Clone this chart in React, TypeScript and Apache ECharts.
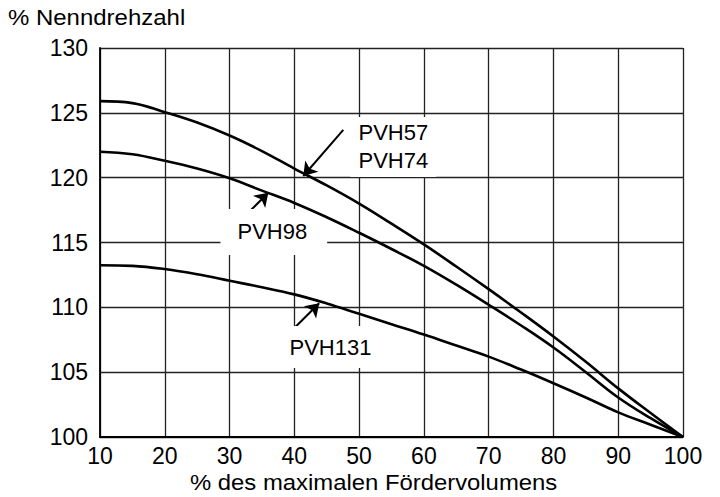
import React, { useEffect, useRef } from "react";
import * as echarts from "echarts";

const xValues = [10, 15, 20, 25, 30, 35, 40, 45, 50, 55, 60, 65, 70, 75, 80, 85, 90, 95, 100];
const pvh57_74 = [125.9, 125.75, 125.05, 124.25, 123.25, 122.05, 120.7, 119.4, 118.0, 116.45, 114.85, 113.15, 111.4, 109.6, 107.75, 105.8, 103.75, 101.85, 100];
const pvh98 = [122.0, 121.8, 121.3, 120.7, 119.95, 119.0, 118.05, 116.95, 115.75, 114.5, 113.2, 111.75, 110.2, 108.6, 106.9, 105.0, 103.05, 101.45, 100];
const pvh131 = [113.25, 113.2, 112.95, 112.55, 112.05, 111.55, 111.0, 110.3, 109.5, 108.7, 107.9, 107.05, 106.2, 105.2, 104.15, 103.05, 101.9, 100.95, 100];

const xTitle = "% des maximalen Fördervolumens";
const yTitle = "% Nenndrehzahl";

// annotation labels
const labelTexts = ["PVH57\nPVH74", "PVH98", "PVH131"];
const labelAnchors: number[][] = [[48.59, 122.37], [28.52, 115.81], [38.4, 106.94]];
const labelPaddings: number[][] = [[2, 8, 2, 8], [9, 20, 9, 17], [7, 6, 7, 5]];
// arrows: start -> tip
const arrowStarts: number[][] = [[47.56, 123.68], [33.05, 117.38], [39.69, 108.25]];
const arrowTips: number[][] = [[41.38, 120.13], [35.98, 118.84], [43.84, 110.31]];

const FONT = "'Liberation Sans', Arial, sans-serif";

export default function App() {
  const ref = useRef<HTMLDivElement>(null);
  useEffect(() => {
    if (!ref.current) return;
    const chart = echarts.init(ref.current, null, { renderer: "svg" });
    const mk = (arr: number[]) => xValues.map((x, i) => [x, arr[i]]);
    const lineStyle = { color: "#000", width: 2.6 };
    const curve = (name: string, arr: number[]) => ({
      name,
      type: "line",
      data: mk(arr),
      smooth: 0.4,
      showSymbol: false,
      lineStyle,
      silent: true,
      z: 20,
    });
    chart.setOption({
      animation: false,
      backgroundColor: "#fff",
      textStyle: { fontFamily: FONT },
      graphic: [
        {
          type: "text",
          x: 8,
          y: 6,
          scaleX: 1.09,
          style: { text: yTitle, font: `22px ${FONT}`, fill: "#000", textAlign: "left", textVerticalAlign: "top" },
        },
        {
          type: "text",
          x: 190,
          y: 471,
          scaleX: 1.085,
          style: { text: xTitle, font: `22px ${FONT}`, fill: "#000", textAlign: "left", textVerticalAlign: "top" },
        },
      ],
      grid: { left: 100, top: 48, right: 37, bottom: 60, containLabel: false },
      xAxis: {
        type: "value",
        min: 10,
        max: 100,
        interval: 10,
        axisLine: { show: true, lineStyle: { color: "#000", width: 1.8 } },
        axisTick: { show: false },
        axisLabel: { fontFamily: FONT, fontSize: 23, color: "#000", margin: 7 },
        splitLine: { show: true, lineStyle: { color: "#222", width: 1.3 } },
      },
      yAxis: {
        type: "value",
        min: 100,
        max: 130,
        interval: 5,
        axisLine: { show: true, lineStyle: { color: "#000", width: 1.8 } },
        axisTick: { show: false },
        axisLabel: { fontFamily: FONT, fontSize: 23, color: "#000", margin: 12 },
        splitLine: { show: true, lineStyle: { color: "#222", width: 1.3 } },
      },
      series: [
        {
          name: "labels",
          type: "line",
          data: [],
          silent: true,
          z: 1,
          markPoint: {
            silent: true,
            symbol: "rect",
            symbolSize: 1,
            itemStyle: { color: "rgba(0,0,0,0)" },
            data: labelTexts.map((t, i) => ({
              coord: labelAnchors[i],
              value: t,
              label: {
                show: true,
                formatter: t,
                position: "right",
                distance: 0,
                color: "#000",
                fontFamily: FONT,
                fontSize: 22,
                lineHeight: 28,
                backgroundColor: "#fff",
                padding: labelPaddings[i],
              },
            })),
          },
        },
        {
          ...curve("PVH57/PVH74", pvh57_74),
          markLine: {
            silent: true,
            symbol: ["none", "arrow"],
            symbolSize: 13,
            label: { show: false },
            lineStyle: { color: "#000", width: 2, type: "solid" },
            data: arrowStarts.map((s, i) => [{ coord: s }, { coord: arrowTips[i] }]),
          },
        },
        curve("PVH98", pvh98),
        curve("PVH131", pvh131),
      ],
    });
    return () => chart.dispose();
  }, []);
  return (
    <div
      ref={ref}
      style={{ position: "fixed", left: 0, top: 0, width: 720, height: 497, background: "#fff" }}
    />
  );
}
